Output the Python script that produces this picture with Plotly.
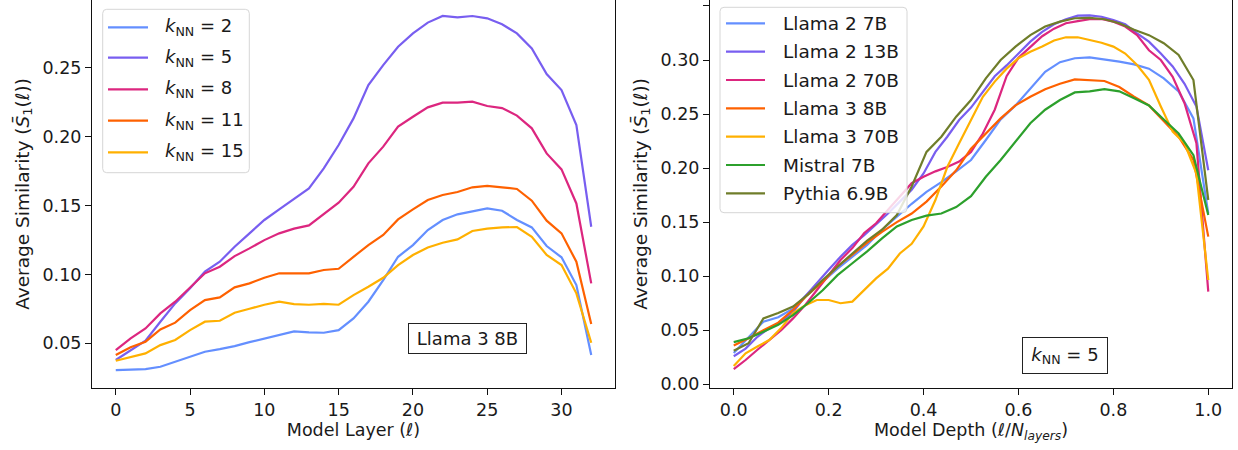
import plotly.graph_objects as go

# ---------------- data: left panel (Llama 3 8B, per layer) ----------------
layers = list(range(33))
knn_values = ["2", "5", "8", "11", "15"]
knn_2 = [0.0306, 0.0311, 0.0313, 0.0330, 0.0366, 0.0403, 0.0439, 0.0458, 0.0480, 0.0509, 0.0536,
         0.0560, 0.0587, 0.0579, 0.0577, 0.0596, 0.0681, 0.0802, 0.0959, 0.1128, 0.1213, 0.1322,
         0.1395, 0.1436, 0.1460, 0.1479, 0.1462, 0.1395, 0.1341, 0.1206, 0.1124, 0.0923, 0.0415]
knn_5 = [0.0379, 0.0451, 0.0519, 0.0657, 0.0790, 0.0899, 0.1020, 0.1092, 0.1201, 0.1298, 0.1395,
         0.1472, 0.1545, 0.1624, 0.1769, 0.1939, 0.2132, 0.2374, 0.2519, 0.2652, 0.2749, 0.2827,
         0.2875, 0.2865, 0.2875, 0.2858, 0.2815, 0.2749, 0.2640, 0.2454, 0.2338, 0.2084, 0.1346]
knn_8 = [0.0451, 0.0536, 0.0608, 0.0717, 0.0802, 0.0906, 0.1008, 0.1056, 0.1133, 0.1189, 0.1249,
         0.1298, 0.1332, 0.1356, 0.1436, 0.1520, 0.1636, 0.1806, 0.1927, 0.2072, 0.2144, 0.2212,
         0.2246, 0.2246, 0.2253, 0.2222, 0.2207, 0.2152, 0.2060, 0.1878, 0.1762, 0.1515, 0.0935]
knn_11 = [0.0415, 0.0471, 0.0512, 0.0601, 0.0650, 0.0741, 0.0814, 0.0833, 0.0906, 0.0935, 0.0976,
          0.1008, 0.1008, 0.1008, 0.1032, 0.1041, 0.1128, 0.1213, 0.1286, 0.1399, 0.1472, 0.1540,
          0.1576, 0.1598, 0.1632, 0.1642, 0.1632, 0.1620, 0.1535, 0.1390, 0.1298, 0.1092, 0.0640]
knn_15 = [0.0374, 0.0398, 0.0427, 0.0487, 0.0524, 0.0596, 0.0657, 0.0664, 0.0722, 0.0751, 0.0780,
          0.0802, 0.0785, 0.0780, 0.0787, 0.0780, 0.0850, 0.0911, 0.0976, 0.1068, 0.1141, 0.1196,
          0.1230, 0.1254, 0.1315, 0.1332, 0.1341, 0.1344, 0.1273, 0.1141, 0.1068, 0.0863, 0.0504]

# ---------------- data: right panel (k_NN = 5, per relative depth) ----------------
model_names = ["Llama 2 7B", "Llama 2 13B", "Llama 2 70B", "Llama 3 8B",
               "Llama 3 70B", "Mistral 7B", "Pythia 6.9B"]
n_layers = [32, 40, 80, 32, 80, 32, 32]
layers_32 = list(range(0, 33))
layers_40 = list(range(0, 41))
layers_80 = list(range(0, 81, 2))

llama2_7b = [0.029, 0.044, 0.058, 0.062, 0.070, 0.084, 0.095, 0.107, 0.118, 0.129, 0.143, 0.155,
             0.167, 0.178, 0.187, 0.197, 0.2075, 0.226, 0.245, 0.258, 0.274, 0.289, 0.298, 0.3016,
             0.3025, 0.3006, 0.2985, 0.296, 0.292, 0.283, 0.271, 0.246, 0.158]
llama2_13b = [0.026, 0.033, 0.044, 0.052, 0.058, 0.067, 0.081, 0.094, 0.106, 0.118, 0.129, 0.138,
              0.148, 0.158, 0.169, 0.180, 0.195, 0.215, 0.229, 0.2445, 0.256, 0.271, 0.285, 0.295,
              0.306, 0.317, 0.326, 0.333, 0.3377, 0.341, 0.3413, 0.340, 0.337, 0.333, 0.3247,
              0.317, 0.306, 0.294, 0.278, 0.257, 0.198]
llama2_70b = [0.014, 0.0225, 0.032, 0.041, 0.050, 0.061, 0.073, 0.087, 0.101, 0.115, 0.126, 0.140,
              0.149, 0.161, 0.174, 0.186, 0.192, 0.197, 0.201, 0.206, 0.215, 0.232, 0.254, 0.285,
              0.302, 0.312, 0.322, 0.329, 0.334, 0.336, 0.3377, 0.338, 0.3355, 0.331, 0.323, 0.309,
              0.300, 0.2845, 0.260, 0.223, 0.0857]
llama3_8b = [0.036, 0.0426, 0.050, 0.057, 0.069, 0.083, 0.095, 0.109, 0.120, 0.131, 0.141, 0.150,
             0.158, 0.169, 0.183, 0.198, 0.218, 0.232, 0.246, 0.258, 0.266, 0.273, 0.278, 0.282,
             0.2815, 0.2806, 0.275, 0.266, 0.258, 0.243, 0.229, 0.2075, 0.1366]
llama3_70b = [0.017, 0.0287, 0.035, 0.041, 0.052, 0.066, 0.073, 0.078, 0.078, 0.075, 0.0765, 0.087,
              0.098, 0.107, 0.121, 0.130, 0.146, 0.1705, 0.201, 0.223, 0.2445, 0.266, 0.280, 0.292,
              0.3016, 0.3077, 0.3124, 0.318, 0.321, 0.321, 0.3185, 0.316, 0.3124, 0.306, 0.2954,
              0.2817, 0.257, 0.2337, 0.223, 0.195, 0.0965]
mistral_7b = [0.039, 0.0426, 0.0487, 0.055, 0.064, 0.075, 0.087, 0.101, 0.112, 0.123, 0.135, 0.146,
              0.152, 0.156, 0.158, 0.164, 0.174, 0.192, 0.2075, 0.2245, 0.2415, 0.254, 0.263, 0.270,
              0.271, 0.273, 0.271, 0.2646, 0.258, 0.245, 0.232, 0.212, 0.1566]
pythia_6_9b = [0.031, 0.038, 0.061, 0.066, 0.072, 0.083, 0.0965, 0.109, 0.121, 0.133, 0.143, 0.1566,
               0.183, 0.215, 0.229, 0.2476, 0.263, 0.283, 0.300, 0.3124, 0.323, 0.331, 0.3355,
               0.3386, 0.339, 0.3377, 0.334, 0.328, 0.323, 0.3155, 0.3047, 0.2815, 0.1705]

# ---------------- styling ----------------
FONT = "DejaVu Sans"
FS = 17.5
TXT = "#1a1a1a"
left_colors = ["#648FFF", "#785EF0", "#DC267F", "#FE6100", "#FFB000"]
right_colors = ["#648FFF", "#785EF0", "#DC267F", "#FE6100", "#FFB000", "#2ca02c", "#6f7d2a"]
LW = 2.2

W, H = 1238, 450
ML, MR, MT, MB = 92, 6, 0, 62
PW, PH = W - ML - MR, H - MT - MB


def px(x):
    return (x - ML) / PW


def py(y):
    return (H - MB - y) / PH


fig = go.Figure()

left_series = [knn_2, knn_5, knn_8, knn_11, knn_15]
left_labels = [f"<i>k</i><sub>NN</sub> = {k}" for k in knn_values]
for lab, vals, col in zip(left_labels, left_series, left_colors):
    fig.add_trace(go.Scatter(
        x=layers, y=vals, mode="lines", name=lab, showlegend=False,
        line=dict(color=col, width=LW), xaxis="x", yaxis="y"))

right_layers = [layers_32, layers_40, layers_80, layers_32, layers_80, layers_32, layers_32]
right_series = [llama2_7b, llama2_13b, llama2_70b, llama3_8b, llama3_70b, mistral_7b, pythia_6_9b]
for name, lay, n, vals, col in zip(model_names, right_layers, n_layers, right_series, right_colors):
    fig.add_trace(go.Scatter(
        x=[l / n for l in lay], y=vals, mode="lines", name=name, showlegend=False,
        line=dict(color=col, width=LW), xaxis="x2", yaxis="y2"))

axis_common = dict(
    showgrid=False, zeroline=False, showline=True, linecolor="#111", linewidth=1.1,
    mirror=True, ticks="outside", ticklen=6, tickwidth=1.1, tickcolor="#111",
    tickfont=dict(family=FONT, size=FS, color=TXT), automargin=False,
)

fig.update_layout(
    width=W, height=H,
    margin=dict(l=ML, r=MR, t=MT, b=MB, autoexpand=False),
    paper_bgcolor="white", plot_bgcolor="white",
    font=dict(family=FONT, size=FS, color=TXT),
    showlegend=False,
    xaxis=dict(axis_common, domain=[0, px(615)], anchor="y", range=[-1.6, 33.6],
               tickmode="array", tickvals=[0, 5, 10, 15, 20, 25, 30],
               title=dict(text="Model Layer (<i>ℓ</i>)", standoff=4,
                          font=dict(family=FONT, size=FS, color=TXT))),
    yaxis=dict(axis_common, domain=[0, 1], anchor="x", range=[0.0176, 0.2991],
               tickmode="array", tickvals=[0.05, 0.10, 0.15, 0.20, 0.25], tickformat=".2f",
               title=dict(text="Average Similarity (<i>S̄</i><sub>1</sub>(<i>ℓ</i>))", standoff=8,
                          font=dict(family=FONT, size=18.5, color=TXT))),
    xaxis2=dict(axis_common, domain=[px(710), 1], anchor="y2", range=[-0.05, 1.05],
                tickmode="array", tickvals=[0, 0.2, 0.4, 0.6, 0.8, 1.0], tickformat=".1f",
                title=dict(text="Model Depth (<i>ℓ</i>/<i>N</i><sub><i>layers</i></sub>)", standoff=4,
                           font=dict(family=FONT, size=FS, color=TXT))),
    yaxis2=dict(axis_common, domain=[0, 1], anchor="x2", range=[-0.0034, 0.3555],
                tickmode="array", tickvals=[0, 0.05, 0.10, 0.15, 0.20, 0.25, 0.30, 0.35],
                tickformat=".2f",
                title=dict(text="Average Similarity (<i>S̄</i><sub>1</sub>(<i>ℓ</i>))", standoff=8,
                           font=dict(family=FONT, size=18.5, color=TXT))),
)


def rounded_box(x0p, y0p, x1p, y1p, r=4):
    # pixel box (top-left, bottom-right) -> rounded path in paper coords
    x0, x1 = px(x0p), px(x1p)
    yt, yb = py(y0p), py(y1p)
    rx, ry = r / PW, r / PH
    return (f"M {x0 + rx},{yt} L {x1 - rx},{yt} Q {x1},{yt} {x1},{yt - ry} "
            f"L {x1},{yb + ry} Q {x1},{yb} {x1 - rx},{yb} L {x0 + rx},{yb} "
            f"Q {x0},{yb} {x0},{yb + ry} L {x0},{yt - ry} Q {x0},{yt} {x0 + rx},{yt} Z")


def add_legend(box, line_x, text_x, rows, labels, colors, size):
    fig.add_shape(type="path", xref="paper", yref="paper", path=rounded_box(*box),
                  line=dict(color="#d6d6d6", width=1), fillcolor="rgba(255,255,255,0.82)",
                  layer="above")
    for yrow, lab, col in zip(rows, labels, colors):
        fig.add_shape(type="line", xref="paper", yref="paper",
                      x0=px(line_x[0]), x1=px(line_x[1]), y0=py(yrow), y1=py(yrow),
                      line=dict(color=col, width=LW), layer="above")
        fig.add_annotation(xref="paper", yref="paper", x=px(text_x), y=py(yrow),
                           xanchor="left", yanchor="middle", showarrow=False, text=lab,
                           font=dict(family=FONT, size=size, color=TXT))


add_legend((102.7, 9.3, 249.3, 172.7), (108, 148), 163,
           [27.3, 57.7, 89.3, 120.7, 152.3], left_labels, left_colors, 18)
add_legend((720, 7.3, 907, 212.7), (726, 765), 781,
           [23.3, 51.7, 80, 108.3, 136.7, 165, 193.3], model_names, right_colors, 18.5)

fig.add_annotation(
    xref="paper", yref="paper", x=px(467.5), y=py(338.5), xanchor="center", yanchor="middle",
    showarrow=False, text="Llama 3 8B", font=dict(family=FONT, size=18, color=TXT),
    bordercolor="#222", borderwidth=1, borderpad=1, bgcolor="white",
    width=115, height=27)
fig.add_annotation(
    xref="paper", yref="paper", x=px(1064.7), y=py(355), xanchor="center", yanchor="middle",
    showarrow=False, text="<i>k</i><sub>NN</sub> = 5", font=dict(family=FONT, size=18, color=TXT),
    bordercolor="#222", borderwidth=1, borderpad=1, bgcolor="white",
    width=82, height=33)

fig.write_html("out.html", config={"displayModeBar": False},
               post_script="document.body.style.margin='0';")
